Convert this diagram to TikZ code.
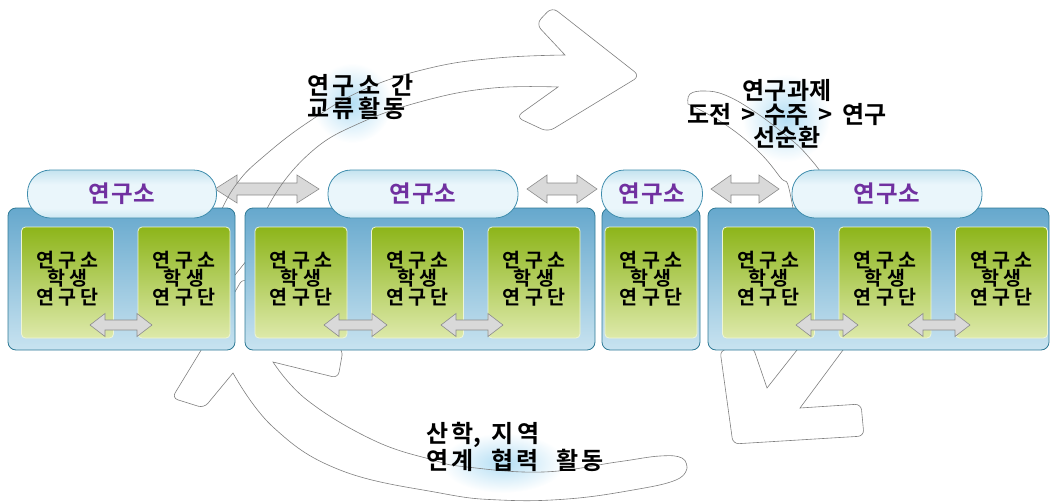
\documentclass[tikz,border=0pt]{standalone}
\usepackage{fontspec}
\setmainfont{Noto Sans CJK KR}[BoldFont={Noto Sans CJK KR Bold}]
\definecolor{panelT}{HTML}{66A8CD}
\definecolor{panelBot}{HTML}{C8E3F0}
\definecolor{panelB}{HTML}{2F7A96}
\definecolor{grT}{HTML}{8DB51A}
\definecolor{grB}{HTML}{DDE9AA}
\definecolor{grBd}{HTML}{EEF5D6}
\definecolor{pillT}{HTML}{86C3DC}
\definecolor{pillW}{HTML}{EAF6FB}
\definecolor{pillBd}{HTML}{3F8DAD}
\definecolor{purp}{HTML}{7030A0}
\definecolor{hl}{HTML}{B3DEF4}
\definecolor{arrF}{HTML}{D9D9D9}
\definecolor{arrB}{HTML}{8C8C8C}
\definecolor{curvB}{HTML}{7F7F7F}
\pgfdeclareverticalshading{pillshade}{100bp}{color(0bp)=(pillT); color(35bp)=(pillW); color(60bp)=(pillW); color(100bp)=(pillT)}
\newcommand\gp{\kern4.5pt}
\newcommand\tg{\kern3.5pt}
\newcommand\dbarrow[6]{%
  \draw[grayarr] (#1,#3) -- (#1+#6,#3-#4) -- (#1+#6,#3-#5) -- (#2-#6,#3-#5) -- (#2-#6,#3-#4) -- (#2,#3)
    -- (#2-#6,#3+#4) -- (#2-#6,#3+#5) -- (#1+#6,#3+#5) -- (#1+#6,#3+#4) -- cycle;}
\begin{document}
\begin{tikzpicture}[x=1pt,y=-1pt,
  panel/.style={draw=panelB, line width=0.8pt, rounded corners=8pt, top color=panelT, bottom color=panelBot, minimum height=142pt, inner sep=0pt},
  gbox/.style={draw=grBd, line width=0.8pt, rounded corners=4pt, top color=grT, bottom color=grB, minimum width=92pt, minimum height=111pt, inner sep=0pt},
  gtext/.style={font=\bfseries\fontsize{19.5}{18.5}\selectfont, align=center, inner sep=0pt},
  pill/.style={draw=pillBd, line width=0.8pt, rounded corners=23pt, shading=pillshade, minimum height=48pt, inner sep=0pt, text=purp, font=\bfseries\fontsize{23.5}{24}\selectfont},
  grayarr/.style={draw=arrB, fill=arrF, line width=0.6pt},
  curv/.style={draw=curvB, line width=0.6pt},
  label/.style={font=\bfseries\fontsize{24}{21}\selectfont, inner sep=0pt}
]
\useasboundingbox (0,0) rectangle (1050,501);
% highlight circles
\shade[inner color=hl, outer color=white] (352,103) circle (40);
\shade[inner color=hl, outer color=white] (786,118) circle (44);
\shade[inner color=hl, outer color=white] (503,463) ellipse (62 and 30);
% big gray arrows between institutes
\dbarrow{215}{319}{189}{14}{6}{22}
\dbarrow{527}{597}{189}{14}{6}{20}
\dbarrow{711}{779}{189}{14}{6}{20}
% curved arrows
\draw[curv] (215,300) -- plot[smooth, tension=0.7] coordinates {(208,245) (220,213) (238,182) (263,157) (307,123) (363,90) (430,68) (497,58) (565,55)}
  [rounded corners=7pt] -- (536,24) -- (552,7) -- (640,76) -- (548,132) -- (516,117) [sharp corners] -- (558,87)
  -- plot[smooth, tension=0.7] coordinates {(558,87) (493,88) (427,100) (360,123) (310,153) (270,203) (255,250)} -- cycle;
\draw[curv] plot[smooth, tension=0.7] coordinates {(688,104) (690,94) (705,91) (725,95) (752,110) (783,133) (807,155) (828,185) (848,235) (853,295) (843,350)}
  -- (800,408) [rounded corners=6pt] -- (861,404) -- (864,436) -- (733,444) -- (720,350) -- (753,347) [sharp corners] -- (767,388) -- (797,350)
  -- plot[smooth, tension=0.7] coordinates {(797,350) (800,270) (790,193) (780,177) (757,150) (723,123) (688,104)} -- cycle;
\draw[curv] plot[smooth, tension=0.7] coordinates {(687,468) (682,458) (660,456) (617,462) (543,472) (467,467) (433,460) (373,440) (307,400) (273,362)}
  [rounded corners=6pt] -- (338,378) -- (343,350) -- (243,278) -- (200,352) -- (172,398) -- (204,408) [sharp corners] -- (233,373)
  -- plot[smooth, tension=0.7] coordinates {(233,373) (273,427) (340,470) (440,493) (500,500) (567,499) (633,490) (676,480) (687,468)} -- cycle;
% panels
\node[panel, minimum width=227pt] (P1) at (121.5,279) {};
\node[panel, minimum width=350pt] (P2) at (420,279) {};
\node[panel, minimum width=98pt] (P3) at (651,279) {};
\node[panel, minimum width=341pt] (P4) at (878.5,279) {};
% green boxes
\foreach \n/\x in {G1a/67.5, G1b/184, G2a/301, G2b/417.5, G2c/534, G3/651, G4a/768.5, G4b/885, G4c/1001.5}{
  \node[gbox] (\n) at (\x,282.5) {};
  \node[gtext, yshift=4pt] at (\n.center) {연\gp 구\gp 소\\학\gp 생\\연\gp 구\gp 단};
}
% small arrows between student groups
\dbarrow{90}{152}{325}{11.5}{5}{15}
\dbarrow{324}{387}{325}{11.5}{5}{15}
\dbarrow{441}{503}{325}{11.5}{5}{15}
\dbarrow{796}{858}{325}{11.5}{5}{15}
\dbarrow{908}{970}{325}{11.5}{5}{15}
% institute pills
\node[pill, minimum width=189pt] (I1) at (122,194) {연\kern1pt 구\kern1pt 소};
\node[pill, minimum width=190pt] (I2) at (423,194) {연\kern1pt 구\kern1pt 소};
\node[pill, minimum width=101pt] (I3) at (652,194) {연\kern1pt 구\kern1pt 소};
\node[pill, minimum width=190pt] (I4) at (887,194) {연\kern1pt 구\kern1pt 소};
% labels
\node[label, anchor=west, align=left] (L1) at (307,97) {연\tg 구\tg 소\kern6pt\ 간\\교\tg 류\tg 활\tg 동};
\node[label, align=center] (L2) at (787,114) {연구과제\\도전 \,>\, 수주 \,>\, 연구\\선순환};
\node[label, anchor=west, align=left] (L3) at (426,447) {산\tg 학,\kern10pt 지\tg 역\\연\tg 계\kern12pt\ 협\tg 력\kern12pt\ 활\tg 동};
\end{tikzpicture}
\end{document}
